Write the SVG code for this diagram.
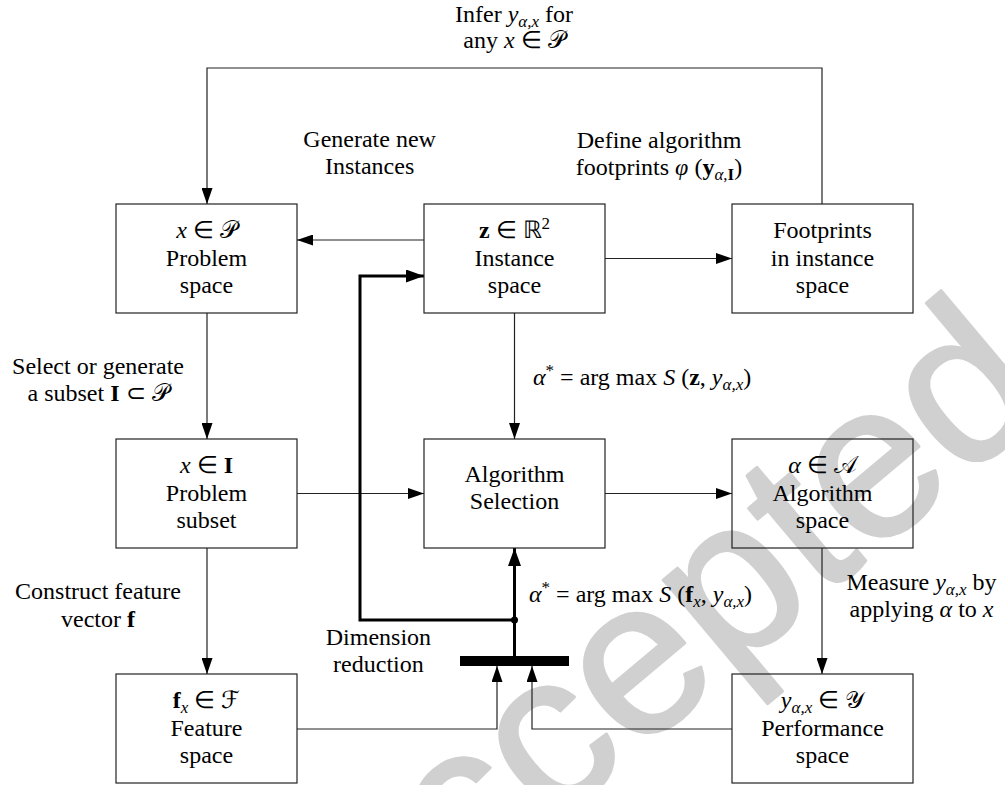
<svg xmlns="http://www.w3.org/2000/svg" width="1005" height="785" viewBox="0 0 1005 785">
<style>
.t{font-size:24px;fill:#000}
.m{text-anchor:middle}
.i{font-style:italic}
.b{font-weight:bold}
.cal{font-style:normal}
.s{font-size:17px}
.box{fill:none;stroke:#222;stroke-width:1.2}
.ln{fill:none;stroke:#222;stroke-width:1.2}
.th{fill:none;stroke:#000;stroke-width:3}
.wm{font-size:220px;fill:#d0d0d0;stroke:#d0d0d0;stroke-width:3;stroke-linejoin:round}
</style>
<defs>
<marker id="a" markerUnits="userSpaceOnUse" markerWidth="16" markerHeight="11" refX="16" refY="5.5" orient="auto">
<path d="M0,0 L16,5.5 L0,11 z" fill="#000"/>
</marker>
<marker id="ab" markerUnits="userSpaceOnUse" markerWidth="18" markerHeight="13" refX="18" refY="6.5" orient="auto">
<path d="M0,0 L18,6.5 L0,13 z" fill="#000"/>
</marker>
</defs>
<rect width="1005" height="785" fill="#fff"/>
<text class="wm" font-family="Liberation Sans, Arial, sans-serif" transform="translate(352.4,992.6) rotate(-40)">Accepted</text>

<g id="connectors">
<path class="ln" d="M822,204 V68 H207 V204" marker-end="url(#a)"/>
<path class="ln" d="M424,240 H297" marker-end="url(#a)"/>
<path class="ln" d="M605,258.5 H732" marker-end="url(#a)"/>
<path class="ln" d="M207,313 V439" marker-end="url(#a)"/>
<path class="ln" d="M514.5,313 V439" marker-end="url(#a)"/>
<path class="ln" d="M297,493.5 H424" marker-end="url(#a)"/>
<path class="ln" d="M605,493.5 H732" marker-end="url(#a)"/>
<path class="ln" d="M822,548 V674" marker-end="url(#a)"/>
<path class="ln" d="M207,548 V674" marker-end="url(#a)"/>
<path class="ln" d="M297,729 H497 V666" marker-end="url(#a)"/>
<path class="ln" d="M732,729 H532 V666" marker-end="url(#a)"/>
<path class="th" d="M514.5,656 V548" marker-end="url(#ab)"/>
<path class="th" d="M514.5,620 H360 V276 H424" marker-end="url(#ab)"/>
<circle cx="514.5" cy="620" r="3.5" fill="#000"/>
<rect x="460" y="656" width="109" height="10" fill="#000"/>
</g>

<g class="t" font-family="'Liberation Serif', serif">
<g id="problem-space">
<rect class="box" x="116" y="204" width="181" height="109"/>
<text class="m" x="206.5" y="238.3"><tspan class="i">x</tspan> ∈ <tspan class="cal">𝒫</tspan></text>
<text class="m" x="206.5" y="265.7">Problem</text>
<text class="m" x="206.5" y="292.7">space</text>
</g>
<g id="instance-space">
<rect class="box" x="424" y="204" width="181" height="109"/>
<text class="m" x="514.5" y="238.3"><tspan class="b">z</tspan> ∈ <tspan class="cal">ℝ</tspan><tspan class="s" dy="-9">2</tspan></text>
<text class="m" x="514.5" y="265.7">Instance</text>
<text class="m" x="514.5" y="292.7">space</text>
</g>
<g id="footprints">
<rect class="box" x="732" y="204" width="181" height="109"/>
<text class="m" x="822.5" y="238.3">Footprints</text>
<text class="m" x="822.5" y="265.7">in instance</text>
<text class="m" x="822.5" y="292.7">space</text>
</g>
<g id="problem-subset">
<rect class="box" x="116" y="439" width="181" height="109"/>
<text class="m" x="206.5" y="473.3"><tspan class="i">x</tspan> ∈ <tspan class="b">I</tspan></text>
<text class="m" x="206.5" y="500.7">Problem</text>
<text class="m" x="206.5" y="527.7">subset</text>
</g>
<g id="algorithm-selection">
<rect class="box" x="424" y="439" width="181" height="109"/>
<text class="m" x="514.5" y="481.7">Algorithm</text>
<text class="m" x="514.5" y="509">Selection</text>
</g>
<g id="algorithm-space">
<rect class="box" x="732" y="439" width="181" height="109"/>
<text class="m" x="822.5" y="473.3"><tspan class="i">α</tspan> ∈ <tspan class="cal">𝒜</tspan></text>
<text class="m" x="822.5" y="500.7">Algorithm</text>
<text class="m" x="822.5" y="527.7">space</text>
</g>
<g id="feature-space">
<rect class="box" x="116" y="674" width="181" height="109"/>
<text class="m" x="206.5" y="708.3"><tspan class="b">f</tspan><tspan class="i s" dy="5">x</tspan><tspan dy="-5"> ∈ </tspan><tspan class="cal">ℱ</tspan></text>
<text class="m" x="206.5" y="735.7">Feature</text>
<text class="m" x="206.5" y="762.7">space</text>
</g>
<g id="performance-space">
<rect class="box" x="732" y="674" width="181" height="109"/>
<text class="m" x="822.5" y="708.3"><tspan class="i">y</tspan><tspan class="i s" dy="5">α,x</tspan><tspan dy="-5"> ∈ </tspan><tspan class="cal">𝒴</tspan></text>
<text class="m" x="822.5" y="735.7">Performance</text>
<text class="m" x="822.5" y="762.7">space</text>
</g>

<g id="labels">
<text class="m" x="514" y="21.7">Infer <tspan class="i">y</tspan><tspan class="i s" dy="5">α,x</tspan><tspan dy="-5"> for</tspan></text>
<text class="m" x="514" y="48.3">any <tspan class="i">x</tspan> ∈ <tspan class="cal">𝒫</tspan></text>
<text class="m" x="369.6" y="147.3">Generate new</text>
<text class="m" x="369.6" y="174">Instances</text>
<text class="m" x="659" y="148">Define algorithm</text>
<text class="m" x="659" y="175">footprints <tspan class="i">φ</tspan> (<tspan class="b">y</tspan><tspan class="s" dy="5"><tspan class="i">α</tspan>,<tspan class="b">I</tspan></tspan><tspan dy="-5">)</tspan></text>
<text class="m" x="98" y="374">Select or generate</text>
<text class="m" x="98" y="401">a subset <tspan class="b">I</tspan> ⊂ <tspan class="cal">𝒫</tspan></text>
<text class="m" x="98" y="599.3">Construct feature</text>
<text class="m" x="98" y="626.7">vector <tspan class="b">f</tspan></text>
<text class="m" x="378.4" y="645">Dimension</text>
<text class="m" x="378.4" y="671.7">reduction</text>
<text x="533" y="385"><tspan class="i">α</tspan><tspan class="s" dy="-9">*</tspan><tspan dy="9"> = arg max </tspan><tspan class="i">S</tspan> (<tspan class="b">z</tspan>, <tspan class="i">y</tspan><tspan class="i s" dy="5">α,x</tspan><tspan dy="-5">)</tspan></text>
<text x="529" y="601.7"><tspan class="i">α</tspan><tspan class="s" dy="-9">*</tspan><tspan dy="9"> = arg max </tspan><tspan class="i">S</tspan> (<tspan class="b">f</tspan><tspan class="i s" dy="5">x</tspan><tspan dy="-5">, </tspan><tspan class="i">y</tspan><tspan class="i s" dy="5">α,x</tspan><tspan dy="-5">)</tspan></text>
<text class="m" x="921.5" y="590">Measure <tspan class="i">y</tspan><tspan class="i s" dy="5">α,x</tspan><tspan dy="-5"> by</tspan></text>
<text class="m" x="921.5" y="616.7">applying <tspan class="i">α</tspan> to <tspan class="i">x</tspan></text>
</g>
</g>
</svg>
